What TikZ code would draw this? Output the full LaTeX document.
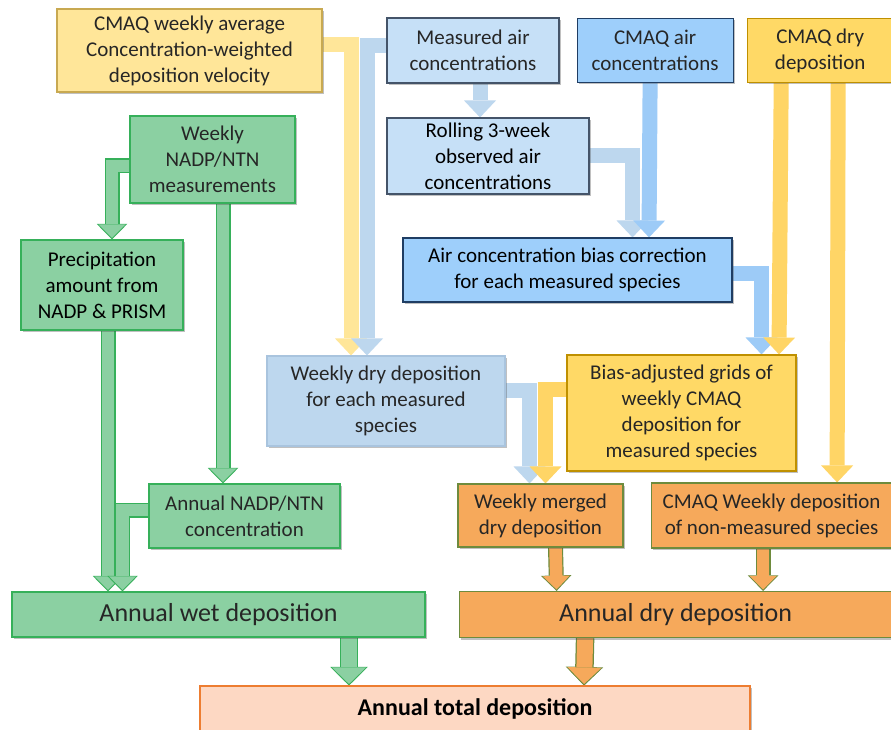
\documentclass[tikz,border=0pt]{standalone}
\usepackage{fontspec}
\setmainfont{Carlito}
\usepackage{tikz}
\usetikzlibrary{arrows.meta,positioning,calc,shadows,backgrounds}

\definecolor{ink}{HTML}{262626}
\definecolor{lyel}{HTML}{FFE699}
\definecolor{lyelrim}{HTML}{C8A951}
\definecolor{gold}{HTML}{FFD966}
\definecolor{goldrim}{HTML}{BF9000}
\definecolor{obs}{HTML}{C6E0F7}
\definecolor{obsrim}{HTML}{445469}
\definecolor{mod}{HTML}{9ECFFB}
\definecolor{modrim}{HTML}{1F3D63}
\definecolor{pale}{HTML}{BDD7EE}
\definecolor{palerim}{HTML}{A9C4DE}
\definecolor{wet}{HTML}{8BD0A2}
\definecolor{wetrim}{HTML}{36B05A}
\definecolor{dry}{HTML}{F6A95B}
\definecolor{dryrim}{HTML}{6E8B3D}
\definecolor{tot}{HTML}{FDD8C3}
\definecolor{totrim}{HTML}{ED7D31}
\definecolor{lbarr}{HTML}{BDD7EE}
\definecolor{barr}{HTML}{9DCBF7}
\definecolor{goldarr}{HTML}{FFD566}

\begin{document}
\begin{tikzpicture}[
  x=1pt, y=-1pt,
  box/.style={draw,line width=1.1pt,align=center,inner sep=1pt,text=ink,
    font=\fontsize{21}{26}\selectfont,
    drop shadow={shadow xshift=2pt,shadow yshift=-2pt,opacity=.35,fill=black!70}},
  yelbox/.style={box,fill=lyel,draw=lyelrim},
  goldbox/.style={box,fill=gold,draw=goldrim},
  obsbox/.style={box,fill=obs,draw=obsrim,text=black},
  modbox/.style={box,fill=mod,draw=modrim},
  palebox/.style={box,fill=pale,draw=palerim},
  wetbox/.style={box,fill=wet,draw=wetrim},
  drybox/.style={box,fill=dry,draw=dryrim},
  pipe/.style={draw=#1,line width=15pt,line join=miter,
    -{Triangle[length=17pt,width=32pt,line width=0pt]}},
  rim/.style 2 args={draw=#1,line width=12.6pt,line join=miter,shorten >=1.5pt,
    -{Triangle[length=13.5pt,width=27pt,line width=0pt]},
    preaction={draw=#2,line width=15pt,shorten >=0pt,
      -{Triangle[length=15.5pt,width=30.5pt,line width=0pt]}}},
  fatrim/.style 2 args={rim={#1}{#2},line width=16pt,
    -{Triangle[length=16.5pt,width=34pt,line width=0pt]},
    preaction={draw=#2,line width=18.5pt,shorten >=0pt,
      -{Triangle[length=18.5pt,width=37.5pt,line width=0pt]}}}
]
  \useasboundingbox (0,0) rectangle (891,730);

  % top row
  \node[yelbox,minimum width=265pt,minimum height=83pt] (avg) at (189.5,50.5)
    {CMAQ weekly average\\Concentration-weighted\\deposition velocity};
  \node[obsbox,text=ink,minimum width=172pt,minimum height=65pt] (meas) at (473,50.5)
    {Measured air\\concentrations};
  \node[modbox,minimum width=156pt,minimum height=64pt,right=17pt of meas] (cair)
    {CMAQ air\\concentrations};
  \node[goldbox,minimum width=146pt,minimum height=64pt,right=13pt of cair] (cdry)
    {CMAQ dry\\deposition};

  % wet side
  \node[wetbox,minimum width=165pt,minimum height=87pt] (nadp) at (212.5,159.5)
    {Weekly\\NADP/NTN\\measurements};
  \node[wetbox,text=black,minimum width=162pt,minimum height=90pt] (prec) at (102,285)
    {Precipitation\\amount from\\NADP \& PRISM};
  \node[wetbox,minimum width=191pt,minimum height=64pt] (annadp) at (244.5,516)
    {Annual NADP/NTN\\concentration};
  \node[wetbox,minimum width=413pt,minimum height=45pt,
    font=\fontsize{26}{30}\selectfont] (wet) at (218.5,614.5) {Annual wet deposition};

  % dry side
  \node[obsbox,minimum width=202pt,minimum height=76pt] (roll) at (488,156)
    {Rolling 3-week\\observed air\\concentrations};
  \node[modbox,text=black,minimum width=329pt,minimum height=64pt] (bias) at (567.5,270)
    {Air concentration bias correction\\for each measured species};
  \node[palebox,minimum width=238pt,minimum height=90pt] (wdry) at (386,401)
    {Weekly dry deposition\\for each measured\\species};
  \node[goldbox,minimum width=229pt,minimum height=116pt] (badj) at (681.5,413)
    {Bias-adjusted grids of\\weekly CMAQ\\deposition for\\measured species};
  \node[drybox,minimum width=165pt,minimum height=63pt] (merged) at (540.5,515.5)
    {Weekly merged\\dry deposition};
  \node[drybox,minimum width=241pt,minimum height=65pt,right=27pt of merged] (nonm)
    {CMAQ Weekly deposition\\of non-measured species};
  \node[drybox,minimum width=433pt,minimum height=46pt,right=33pt of wet,
    font=\fontsize{26}{30}\selectfont] (dry) {Annual dry deposition};

  \node[box,fill=tot,draw=totrim,text=black,minimum width=550pt,minimum height=46pt,
    font=\fontsize{24}{28}\selectfont\bfseries] (total) at (475,709)
    {Annual total deposition};

  \begin{scope}[on background layer]
    \fill[white] (0,0) rectangle (891,730);
    % air concentration branch
    \draw[pipe=lyel] ([yshift=5.5pt]avg.east) -| ([xshift=-35pt]wdry.north);
    \draw[pipe=lbarr] ([yshift=5pt]meas.west) -| ([xshift=-19pt]wdry.north);
    \draw[pipe=lbarr] ([xshift=7pt]meas.south) -- ([xshift=-8pt]roll.north);
    \draw[pipe=lbarr] (roll.east) -| ([xshift=65pt]bias.north);
    \draw[pipe=barr] ([xshift=-5pt]cair.south) -- ([xshift=81.5pt]bias.north);
    \draw[pipe=barr] ([yshift=-3pt]bias.east) -| ([xshift=80pt]badj.north);
    \draw[pipe=goldarr] ([xshift=-39pt]cdry.south) -- ([xshift=97.5pt]badj.north);
    \draw[pipe=goldarr] ([xshift=18pt]cdry.south) -- ([xshift=65.5pt]nonm.north);
    \draw[pipe=lbarr] ([yshift=11pt]wdry.east) -| ([xshift=-11pt]merged.north);
    \draw[pipe=goldarr] ([yshift=24pt]badj.west) -| ([xshift=5pt]merged.north);

    % wet branch
    \draw[rim={wet}{wetrim}] ([yshift=-6.5pt]nadp.west) -| ([xshift=10pt]prec.north);
    \draw[rim={wet}{wetrim}] ([xshift=10.5pt]nadp.south) -- ([xshift=-21.5pt]annadp.north);
    \draw[rim={wet}{wetrim}] ([xshift=6pt]prec.south) -- ([xshift=-110.5pt]wet.north);
    \draw[rim={wet}{wetrim}] ([yshift=6pt]annadp.west) -| ([xshift=-96pt]wet.north);

    % annual sums
    \draw[rim={dry}{dryrim}] ([xshift=15pt]merged.south) -- ([xshift=-119pt]dry.north);
    \draw[rim={dry}{dryrim}] ([xshift=-8.5pt]nonm.south) -- ([xshift=87.5pt]dry.north);
    \draw[fatrim={wet}{wetrim}] ([xshift=130.5pt]wet.south) -- ([xshift=-126pt]total.north);
    \draw[fatrim={dry}{dryrim}] ([xshift=-90.5pt]dry.south) -- ([xshift=109pt]total.north);
  \end{scope}
\end{tikzpicture}
\end{document}
